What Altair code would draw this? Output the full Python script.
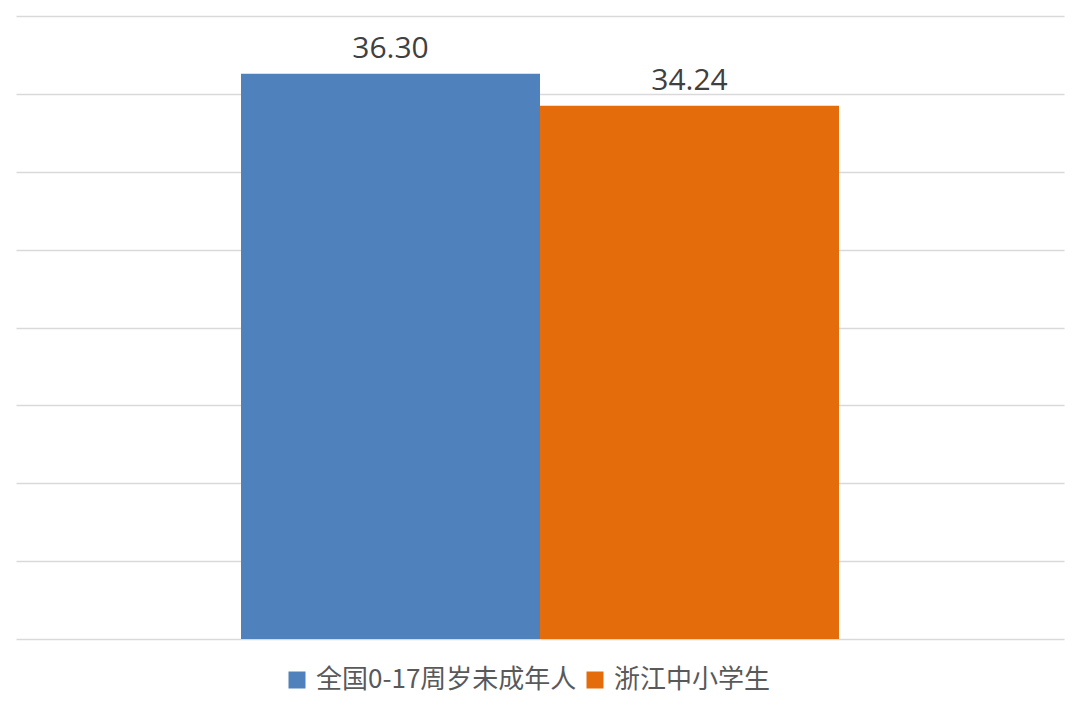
import altair as alt
import pandas as pd

series = ["全国0-17周岁未成年人", "浙江中小学生"]
values = [36.30, 34.24]
labels = ["36.30", "34.24"]
colors = ["#4F81BD", "#E46C0A"]
grid_ticks = [0, 5, 10, 15, 20, 25, 30, 35, 40]

df = pd.DataFrame({"series": series, "value": values, "label": labels})

x = alt.X("series:N", sort=series, axis=None,
          scale=alt.Scale(paddingInner=0, paddingOuter=0.7525))
y = alt.Y("value:Q", scale=alt.Scale(domain=[0, 40], nice=False),
          axis=alt.Axis(values=grid_ticks, labels=False, ticks=False, domain=False,
                        title=None, grid=True, gridColor="#D9D9D9", gridWidth=1.5))

bars = alt.Chart(df).mark_bar().encode(
    x=x, y=y,
    color=alt.Color("series:N", sort=series,
                    scale=alt.Scale(domain=series, range=colors),
                    legend=alt.Legend(title=None, orient="none", direction="horizontal",
                                      legendX=268, legendY=651,
                                      symbolType="square", symbolSize=289,
                                      symbolStrokeWidth=0, labelFontSize=26,
                                      labelFont="Noto Sans CJK SC", labelColor="#595959",
                                      labelOffset=6, columnPadding=5,
                                      labelLimit=400)),
)

text = alt.Chart(df).mark_text(baseline="alphabetic", dy=-16, fontSize=30,
                               font="Open Sans", color="#404040").encode(
    x=x, y=y, text="label:N"
)

chart = (bars + text).properties(
    width=1048, height=623,
    background="white",
    padding={"left": 8, "top": 8, "right": 8, "bottom": 8},
).configure_view(stroke=None, strokeWidth=0)

chart.save("out.html", embed_options={"renderer": "svg", "actions": False})
